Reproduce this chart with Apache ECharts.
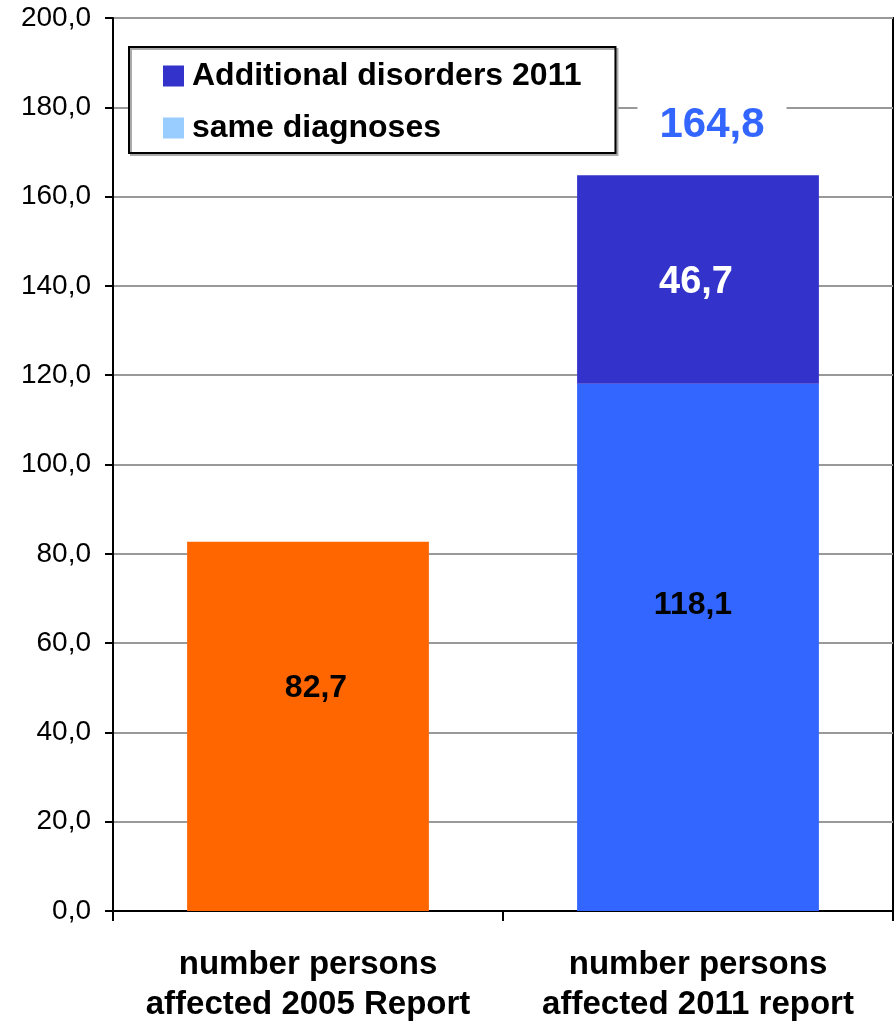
<!DOCTYPE html>
<html>
<head>
<meta charset="utf-8">
<script src="https://cdn.jsdelivr.net/npm/echarts@6/dist/echarts.min.js"></script>
<style>
html,body{margin:0;padding:0;background:#fff;}
#c{width:895px;height:1021px;}
</style>
</head>
<body>
<div id="c"></div>
<script>
var categories = ['number persons\naffected 2005 Report', 'number persons\naffected 2011 report'];
var sameDiagnoses = [82.7, 118.1];
var additional2011 = [null, 46.7];
var yTicks = [0, 20, 40, 60, 80, 100, 120, 140, 160, 180, 200];
var legendNames = ['Additional disorders 2011', 'same diagnoses'];

var totals = categories.map(function (c, i) {
  return additional2011[i] == null ? null : +(sameDiagnoses[i] + additional2011[i]).toFixed(1);
});
function fmt(v) { return Number(v).toFixed(1).replace('.', ','); }

var FONT = 'Liberation Sans, Arial, sans-serif';
var chart = echarts.init(document.getElementById('c'));
chart.setOption({
  animation: false,
  backgroundColor: '#fff',
  grid: { left: 113, right: 2, top: 18, bottom: 110, show: true, borderColor: '#000', borderWidth: 2, backgroundColor: 'transparent', containLabel: false, outerBoundsMode: 'none' },
  legend: {
    left: 129, top: 47, orient: 'vertical',
    backgroundColor: '#fff', borderColor: '#000', borderWidth: 2,
    padding: [13, 34, 9, 34],
    itemWidth: 21, itemHeight: 21, itemGap: 20,
    shadowColor: '#aaa', shadowOffsetX: 2, shadowOffsetY: 2, shadowBlur: 0,
    selectedMode: false,
    textStyle: { fontSize: 32, fontWeight: 'bold', fontFamily: FONT, color: '#000', lineHeight: 31, padding: [0, 0, 0, 3] },
    data: [
      { name: legendNames[0], icon: 'rect', itemStyle: { color: '#3333CC' } },
      { name: legendNames[1], icon: 'rect', itemStyle: { color: '#99CCFF' } }
    ]
  },
  xAxis: {
    type: 'category',
    data: categories,
    axisLine: { lineStyle: { color: '#000', width: 2 } },
    axisTick: { show: true, length: 10, alignWithLabel: false, lineStyle: { color: '#000', width: 2 } },
    axisLabel: { interval: 0, fontSize: 33, fontWeight: 'bold', fontFamily: FONT, color: '#000', lineHeight: 40, margin: 34 },
    splitLine: { show: false }
  },
  yAxis: {
    type: 'value',
    min: yTicks[0], max: yTicks[yTicks.length - 1], interval: yTicks[1] - yTicks[0],
    axisLine: { show: true, lineStyle: { color: '#000', width: 2 } },
    axisTick: { show: true, length: 8, lineStyle: { color: '#000', width: 2 } },
    axisLabel: { fontSize: 28, fontFamily: FONT, color: '#000', margin: 22, formatter: function (v) { return fmt(v); } },
    splitLine: { show: true, lineStyle: { color: '#999', width: 2 } }
  },
  series: [
    {
      name: legendNames[1],
      type: 'bar',
      stack: 'total',
      barWidth: '62%',
      itemStyle: { color: '#3366FF' },
      data: sameDiagnoses.map(function (v, i) {
        return i === 0
          ? { value: v, itemStyle: { color: '#FF6600' }, label: { offset: [8, -38] } }
          : { value: v, label: { offset: [-5, -42] } };
      }),
      label: { show: true, position: 'inside', fontSize: 32, fontWeight: 'bold', fontFamily: FONT, color: '#000', formatter: function (p) { return fmt(p.value); } },
      z: 2
    },
    {
      name: legendNames[0],
      type: 'bar',
      stack: 'total',
      barWidth: '62%',
      itemStyle: { color: '#3333CC' },
      data: additional2011.map(function (v) { return v == null ? '-' : v; }),
      label: { show: true, position: 'inside', offset: [-2, 3], fontSize: 38, fontWeight: 'bold', fontFamily: FONT, color: '#fff', formatter: function (p) { return fmt(p.value); } },
      z: 2
    },
    {
      name: 'total',
      type: 'scatter',
      symbolSize: 1,
      itemStyle: { color: 'rgba(0,0,0,0)', opacity: 1 },
      data: totals.map(function (v) { return v == null ? '-' : v; }),
      label: { show: true, position: 'inside', offset: [14, -50], opacity: 1, fontSize: 42, fontWeight: 'bold', fontFamily: FONT, color: '#3366FF', backgroundColor: '#fff', padding: [8, 22, 6, 22], formatter: function (p) { return fmt(p.value); } },
      z: 5
    }
  ]
});
</script>
</body>
</html>
